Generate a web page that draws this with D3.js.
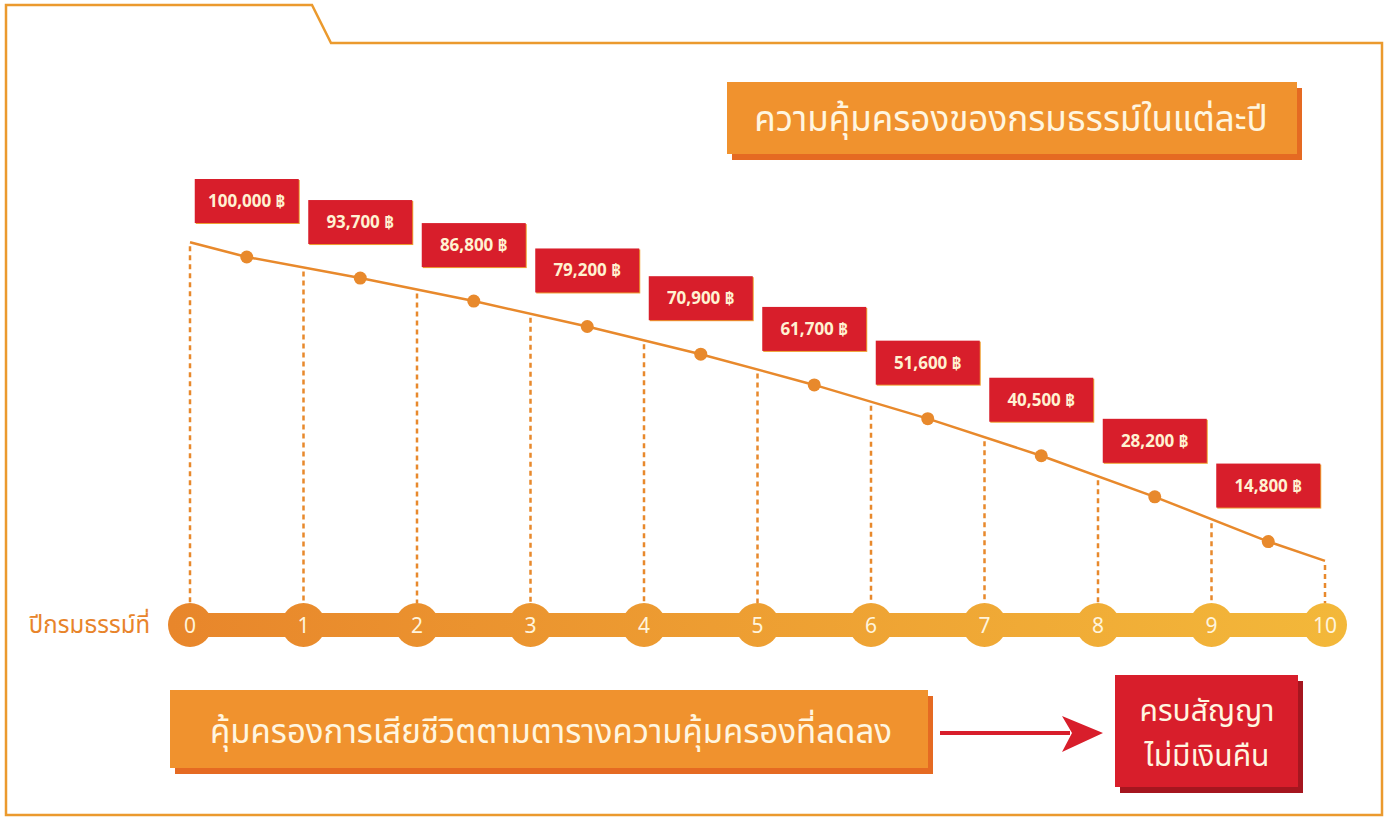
<!DOCTYPE html>
<html>
<head>
<meta charset="utf-8">
<script src="https://cdn.jsdelivr.net/npm/d3@7"></script>
<style>
  body { margin: 0; background: #fff; }
  text { font-family: "Noto Sans Thai", "Noto Sans", "DejaVu Sans", sans-serif; }
</style>
</head>
<body>
<script>

// coverage each policy year (dots sit mid-year)
var years = [0,1,2,3,4,5,6,7,8,9,10];
var coverage = [100000,93700,86800,79200,70900,61700,51600,40500,28200,14800];
// where the line starts and ends
var lineStart = 104400;
var lineEnd = 9000;

var axisTitle = 'ปีกรมธรรม์ที่';
var title = 'ความคุ้มครองของกรมธรรม์ในแต่ละปี';
var footer = 'คุ้มครองการเสียชีวิตตามตารางความคุ้มครองที่ลดลง';
var endNote = ['ครบสัญญา','ไม่มีเงินคืน'];

var fmt = d3.format(',');

var svg = d3.select('body').append('svg')
    .attr('width', 1390)
    .attr('height', 819);

var defs = svg.append('defs');
var grad = defs.append('linearGradient')
    .attr('id','axisGrad')
    .attr('gradientUnits','userSpaceOnUse')
    .attr('x1',170).attr('x2',1350).attr('y1',0).attr('y2',0);
grad.append('stop').attr('offset','0%').attr('stop-color','#e8862b');
grad.append('stop').attr('offset','100%').attr('stop-color','#f3b83a');

// frame with the folder tab
svg.append('path')
    .attr('d','M 6 815 L 6 5 L 312 5 L 331 43 L 1382 43 L 1382 815 Z')
    .attr('fill','none')
    .attr('stroke','#eb9a2e')
    .attr('stroke-width',2.5);

var x = d3.scaleLinear().domain([0,10]).range([190,1325]);
var y = d3.scaleLinear().domain([0,100000]).range([591,257]);

var axisY = 625;
var r = 22;

// line points: start, mid-year dots, end
var pts = [[0,lineStart]];
coverage.forEach(function(d,i) { pts.push([i+0.5,d]); });
pts.push([10,lineEnd]);

var line = d3.line()
    .x(function(d) {return x(d[0]);})
    .y(function(d) {return y(d[1]);});

// y of the line at each whole year
function lineYAt(t) {
  for (var k = 0; k < pts.length-1; k++) {
    if (t >= pts[k][0] && t <= pts[k+1][0]) {
      var f = (t - pts[k][0]) / (pts[k+1][0] - pts[k][0]);
      return y(pts[k][1]) + f*(y(pts[k+1][1]) - y(pts[k][1]));
    }
  }
  return y(pts[pts.length-1][1]);
}

svg.selectAll('.drop')
    .data(years)
    .enter().append('line')
    .attr('class','drop')
    .attr('x1', function(d) {return x(d);})
    .attr('x2', function(d) {return x(d);})
    .attr('y1', function(d) {return lineYAt(d) + 4;})
    .attr('y2', axisY - r)
    .attr('stroke','#e8892c')
    .attr('stroke-width',2.5)
    .attr('stroke-dasharray','5,4');

svg.append('path')
    .datum(pts)
    .attr('d', line)
    .attr('fill','none')
    .attr('stroke','#e8892c')
    .attr('stroke-width',2.5);

svg.selectAll('.dot')
    .data(coverage)
    .enter().append('circle')
    .attr('class','dot')
    .attr('cx', function(d,i) {return x(i+0.5);})
    .attr('cy', function(d) {return y(d);})
    .attr('r', 6.5)
    .attr('fill','#e8892c');

// value labels
var lab = svg.selectAll('.lab')
    .data(coverage)
    .enter().append('g')
    .attr('class','lab')
    .attr('transform', function(d,i) {return 'translate(' + x(i+0.5) + ',' + (y(d) - 78) + ')';});

lab.append('rect')
    .attr('x', -51).attr('y', 1)
    .attr('width', 104).attr('height', 44)
    .attr('fill','#eea032');
lab.append('rect')
    .attr('x', -52).attr('y', 0)
    .attr('width', 104).attr('height', 44)
    .attr('fill','#d81e2b');
lab.append('text')
    .attr('x', 0).attr('y', 28)
    .attr('text-anchor','middle')
    .attr('font-size', 17)
    .attr('font-weight','bold')
    .attr('fill','#fff2d2')
    .text(function(d) {return fmt(d) + ' ฿';});

// year axis
svg.append('rect')
    .attr('x', x(0)).attr('y', axisY - 12)
    .attr('width', x(10) - x(0)).attr('height', 24)
    .attr('fill','url(#axisGrad)');

svg.selectAll('.tick')
    .data(years)
    .enter().append('circle')
    .attr('class','tick')
    .attr('cx', function(d) {return x(d);})
    .attr('cy', axisY)
    .attr('r', r)
    .attr('fill','url(#axisGrad)');

svg.selectAll('.ticklab')
    .data(years)
    .enter().append('text')
    .attr('class','ticklab')
    .attr('x', function(d) {return x(d);})
    .attr('y', axisY + 8)
    .attr('text-anchor','middle')
    .attr('font-size', 21)
    .attr('fill','#fff4dc')
    .text(function(d) {return d;});

svg.append('text')
    .attr('x', 150).attr('y', axisY + 8)
    .attr('text-anchor','end')
    .attr('font-size', 24)
    .attr('fill','#e8842a')
    .text(axisTitle);

// title box
svg.append('rect')
    .attr('x', 732).attr('y', 88)
    .attr('width', 570).attr('height', 72)
    .attr('fill','#e56a22');
svg.append('rect')
    .attr('x', 727).attr('y', 82)
    .attr('width', 570).attr('height', 72)
    .attr('fill','#f0922e');
svg.append('text')
    .attr('x', 1011).attr('y', 131)
    .attr('text-anchor','middle')
    .attr('font-size', 35)
    .attr('fill','#fff6e0')
    .text(title);

// footer box
svg.append('rect')
    .attr('x', 175).attr('y', 696)
    .attr('width', 758).attr('height', 78)
    .attr('fill','#e56a22');
svg.append('rect')
    .attr('x', 170).attr('y', 690)
    .attr('width', 758).attr('height', 78)
    .attr('fill','#f0922e');
svg.append('text')
    .attr('x', 551).attr('y', 743)
    .attr('text-anchor','middle')
    .attr('font-size', 33)
    .attr('fill','#fff6e0')
    .text(footer);

// arrow
svg.append('path')
    .attr('d','M 940 733 L 1070 733')
    .attr('stroke','#d81e2b')
    .attr('stroke-width',4);
svg.append('path')
    .attr('d','M 1062 716 L 1103 733 L 1062 752 L 1072 733 Z')
    .attr('fill','#d81e2b');

// end box
svg.append('rect')
    .attr('x', 1120).attr('y', 681)
    .attr('width', 183).attr('height', 112)
    .attr('fill','#a5161f');
svg.append('rect')
    .attr('x', 1115).attr('y', 675)
    .attr('width', 183).attr('height', 112)
    .attr('fill','#d81e2b');
svg.selectAll('.endnote')
    .data(endNote)
    .enter().append('text')
    .attr('class','endnote')
    .attr('x', 1207)
    .attr('y', function(d,i) {return 721 + i*45;})
    .attr('text-anchor','middle')
    .attr('font-size', 30)
    .attr('fill','#fff6e0')
    .text(function(d) {return d;});

</script>
</body>
</html>
